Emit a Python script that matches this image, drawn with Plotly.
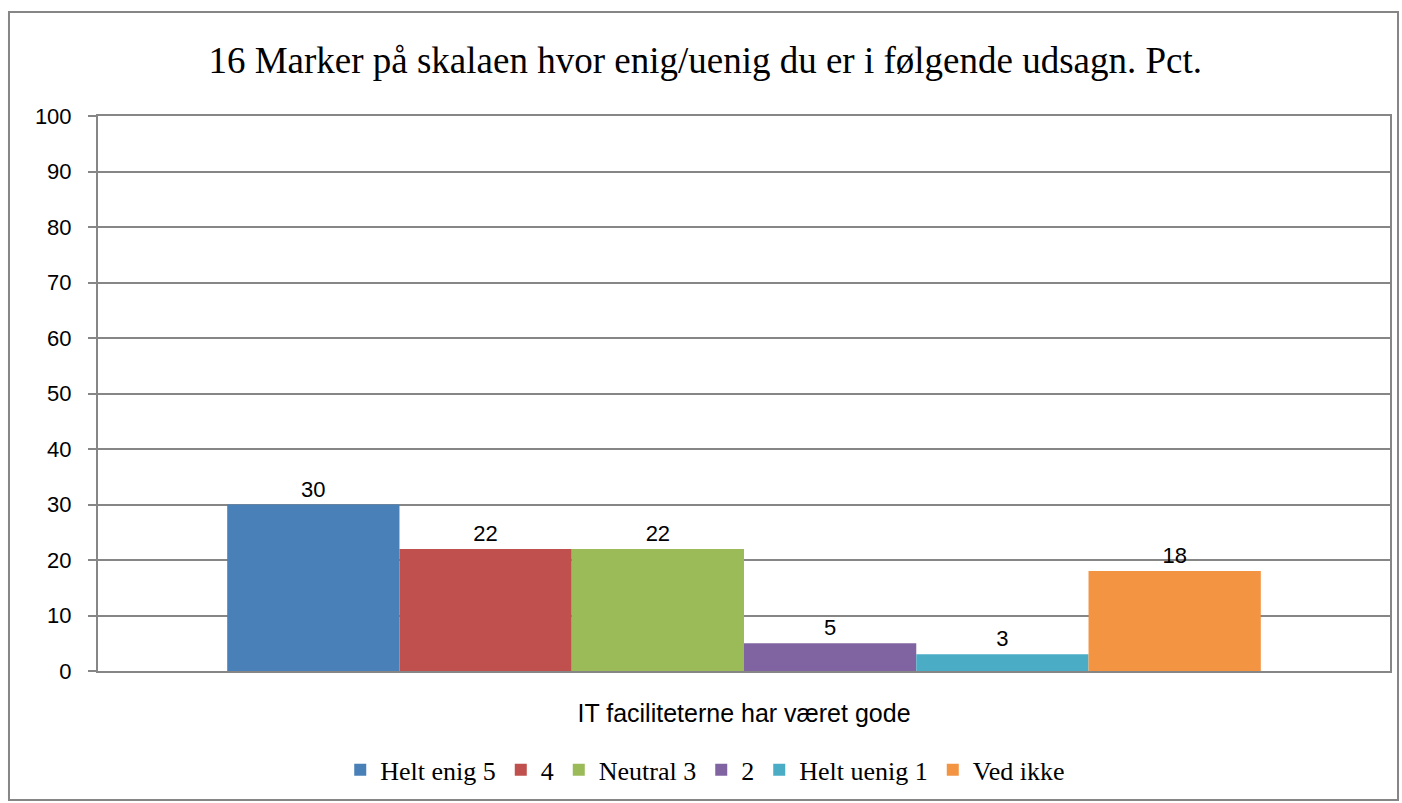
import plotly.graph_objects as go

category = ["IT faciliteterne har været gode"]
series_names = ["Helt enig 5", "4", "Neutral 3", "2", "Helt uenig 1", "Ved ikke"]
values = [30, 22, 22, 5, 3, 18]
colors = ["#4A80B8", "#C0504D", "#9BBB59", "#8064A2", "#4BACC6", "#F39443"]
y_ticks = [0, 10, 20, 30, 40, 50, 60, 70, 80, 90, 100]

fig = go.Figure()
for name, v, c in zip(series_names, values, colors):
    fig.add_trace(go.Bar(
        name=name, x=category, y=[v], marker=dict(color=c, line=dict(width=0)),
        text=[str(v)], textposition="outside",
        textfont=dict(family="Liberation Sans", size=22, color="#000000"),
        cliponaxis=False,
    ))

fig.update_layout(
    width=1402, height=803,
    paper_bgcolor="#FFFFFF", plot_bgcolor="#FFFFFF",
    margin=dict(l=98, r=12, t=116, b=132, autoexpand=False),
    barmode="group", bargap=0.2, bargroupgap=0,
    title=dict(text="16 Marker på skalaen hvor enig/uenig du er i følgende udsagn. Pct.",
               x=0.503, xanchor="center", y=0.925, yanchor="middle",
               font=dict(family="Liberation Serif", size=37, color="#000000")),
    showlegend=True,
    legend=dict(orientation="h", x=0.47, xanchor="center", y=-0.178, yanchor="middle",
                font=dict(family="Liberation Serif", size=26, color="#000000"),
                itemsizing="constant", traceorder="normal", itemwidth=30),
    font=dict(family="Liberation Sans", size=18, color="#000000"),
    shapes=[dict(type="rect", xref="paper", yref="paper",
                 x0=-0.0689, x1=1.0062, y0=-0.2324, y1=1.1874,
                 line=dict(color="#868686", width=2), fillcolor="rgba(0,0,0,0)", layer="below")],
)
fig.update_yaxes(range=[0, 100], tickvals=y_ticks, showgrid=True, gridcolor="#868686", gridwidth=2,
                 showline=True, linecolor="#868686", linewidth=2, mirror=True,
                 ticks="outside", ticklen=8, tickcolor="#868686", tickwidth=2,
                 ticklabelstandoff=12,
                 tickfont=dict(family="Liberation Sans", size=22), zeroline=False)
fig.update_xaxes(showline=True, linecolor="#868686", linewidth=2, mirror=True,
                 ticks="", tickfont=dict(family="Liberation Sans", size=25),
                 ticklabelstandoff=19)

fig.write_html("out.html", config={"displayModeBar": False},
               post_script="document.body.style.margin='0';")
